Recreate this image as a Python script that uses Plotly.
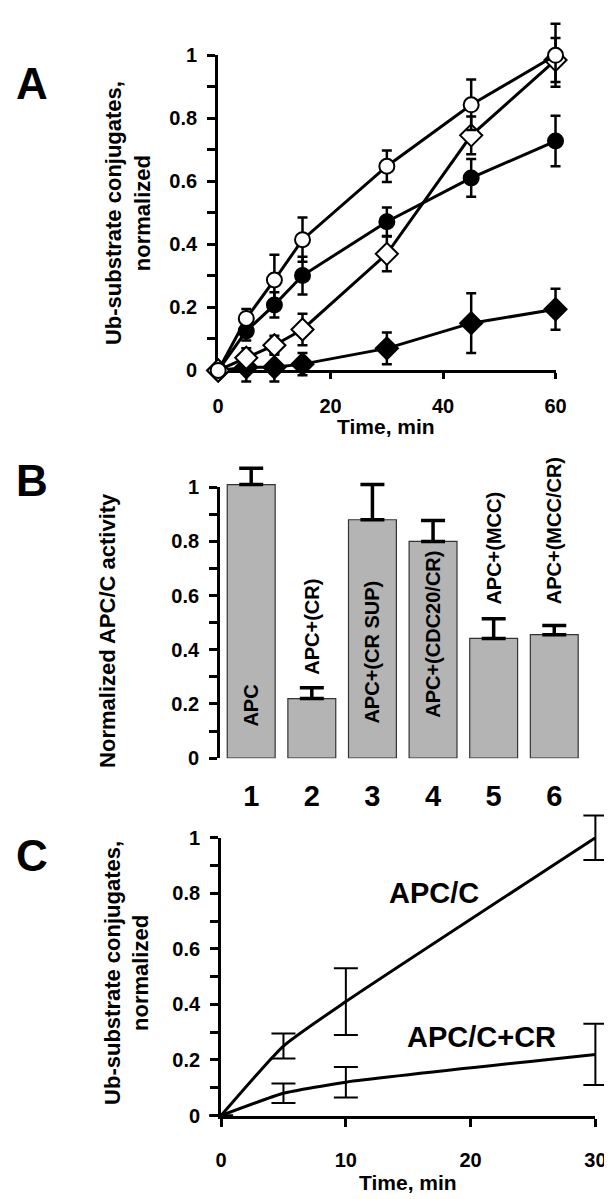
import plotly.graph_objects as go

W, H = 612, 1199

# ---------------- Panel A data ----------------
time_a = [0, 5, 10, 15, 30, 45, 60]
open_circle = [0, 0.165, 0.287, 0.415, 0.648, 0.843, 1.0]
open_circle_err = [None, 0.03, 0.08, 0.07, 0.05, 0.08, 0.10]
filled_circle = [0, 0.125, 0.208, 0.301, 0.472, 0.611, 0.728]
filled_circle_err = [None, 0.03, 0.04, 0.06, 0.045, 0.06, 0.08]
open_diamond = [0, 0.04, 0.08, 0.13, 0.37, 0.746, 0.985]
open_diamond_err = [None, 0.03, 0.03, 0.05, 0.055, 0.06, 0.07]
filled_diamond = [0, 0.01, 0.01, 0.02, 0.07, 0.15, 0.194]
filled_diamond_err = [None, 0.045, 0.045, 0.035, 0.05, 0.095, 0.065]

# ---------------- Panel B data ----------------
lanes = [1, 2, 3, 4, 5, 6]
lane_labels = ["1", "2", "3", "4", "5", "6"]
activity = [1.01, 0.22, 0.88, 0.80, 0.442, 0.456]
activity_err = [0.06, 0.04, 0.13, 0.077, 0.073, 0.034]
bar_texts = ["APC", "APC+(CR)", "APC+(CR SUP)", "APC+(CDC20/CR)", "APC+(MCC)", "APC+(MCC/CR)"]

# ---------------- Panel C data ----------------
time_c = [0, 5, 10, 30]
apc = [0, 0.25, 0.41, 1.0]
apc_err = [None, 0.045, 0.12, 0.08]
apc_cr = [0, 0.08, 0.12, 0.22]
apc_cr_err = [None, 0.035, 0.055, 0.11]

y_ticks = [round(0.1 * i, 1) for i in range(11)]
y_ticktext = [("0" if v == 0 else "1" if v == 1 else f"{v:g}") if i % 2 == 0 else "" for i, v in enumerate(y_ticks)]

FONT = "Liberation Sans, Arial, sans-serif"


def px_x(p):
    return p / W


def px_y(p):
    return 1 - p / H


def extend(p0, p1, r0, r1, q0, q1):
    """visible axis spans pixels p0..p1 for values r0..r1; return values at pixels q0..q1"""
    s = (r1 - r0) / (p1 - p0)
    return [r0 + (q0 - p0) * s, r0 + (q1 - p0) * s]


# pixel frames: (visible px, range, data px)
A_X = (210, 557, 0, 60, 185, 610)
A_Y = (358, 37, 0, 1, 385, 0)
B_X = (212, 590, 0.487, 6.55, 212, 590)
B_Y = (753, 477, 0, 1, 753, 430)
C_X = (213, 598, 0, 30, 200, 612)
C_Y = (1117, 834, 0, 1, 1140, 800)

fig = go.Figure()

# empty traces so the visible (axis-only) subplots are drawn
for xa, ya in [("x", "y"), ("x2", "y2"), ("x3", "y3")]:
    fig.add_trace(go.Scatter(x=[None], y=[None], xaxis=xa, yaxis=ya, showlegend=False,
                             hoverinfo="skip"))


# ---- Panel A traces (on overlay axes x4/y4) ----
def a_trace(y, err, symbol, fill, size):
    return go.Scatter(
        x=time_a, y=y, mode="lines+markers", xaxis="x4", yaxis="y4",
        line=dict(color="black", width=3),
        marker=dict(symbol=symbol, size=size, color=fill, line=dict(color="black", width=2)),
        error_y=dict(type="data", array=err, visible=True, color="black", thickness=2.5, width=5),
        cliponaxis=False, showlegend=False,
    )

fig.add_trace(a_trace(filled_diamond, filled_diamond_err, "diamond", "black", 17))
fig.add_trace(a_trace(filled_circle, filled_circle_err, "circle", "black", 15))
fig.add_trace(a_trace(open_diamond, open_diamond_err, "diamond", "white", 17))
fig.add_trace(a_trace(open_circle, open_circle_err, "circle", "white", 15))

# ---- Panel B ----
fig.add_trace(go.Bar(
    x=lanes, y=activity, xaxis="x5", yaxis="y5",
    marker=dict(color="#b4b4b4", line=dict(color="#333333", width=1.2)),
    error_y=dict(type="data", symmetric=False, array=activity_err,
                 arrayminus=[0] * len(activity_err), color="black", thickness=3.5, width=12),
    showlegend=False,
))

# ---- Panel C ----
for y, err in [(apc, apc_err), (apc_cr, apc_cr_err)]:
    fig.add_trace(go.Scatter(
        x=time_c, y=y, mode="lines", xaxis="x6", yaxis="y6",
        line=dict(color="black", width=3, shape="spline", smoothing=0.5),
        error_y=dict(type="data", array=err, visible=True, color="black", thickness=2, width=12),
        showlegend=False,
    ))

tickfont = dict(family=FONT, size=20, color="black", weight="bold")

yaxis_common = dict(
    range=[0, 1], tickvals=y_ticks, ticktext=y_ticktext, ticks="outside", ticklen=8,
    tickwidth=3, tickcolor="black", showline=True, linewidth=3, linecolor="black",
    showgrid=False, zeroline=False, tickfont=tickfont, ticklabelstandoff=6,
)


def dom_x(f):
    return [px_x(f[4]), px_x(f[5])]


def dom_y(f):
    return [px_y(f[4]), px_y(f[5])]


def hidden(frame_pix, anchor, is_x):
    p0, p1, r0, r1, q0, q1 = frame_pix
    rng = extend(p0, p1, r0, r1, q0, q1)
    dom = [px_x(q0), px_x(q1)] if is_x else [px_y(q0), px_y(q1)]
    return dict(domain=dom, range=rng, visible=False, showgrid=False, zeroline=False,
                anchor=anchor, fixedrange=True)


fig.update_layout(
    width=W, height=H, margin=dict(l=0, r=0, t=0, b=0),
    paper_bgcolor="white", plot_bgcolor="rgba(0,0,0,0)",
    bargap=0.21,
    xaxis=dict(domain=[px_x(210), px_x(557)], range=[0, 60], tickvals=[0, 20, 40, 60],
               ticks="outside", ticklen=6, tickwidth=3, tickcolor="black",
               showline=True, linewidth=3, linecolor="black", showgrid=False, zeroline=False,
               tickfont=tickfont, ticklabelstandoff=10, anchor="y"),
    yaxis=dict(domain=[px_y(358), px_y(37)], anchor="x", **yaxis_common),
    xaxis2=dict(domain=[px_x(212), px_x(590)], range=[0.487, 6.55], tickvals=lanes,
                ticktext=lane_labels, ticks="", showline=False, showgrid=False, zeroline=False,
                tickfont=dict(family=FONT, size=29, color="black", weight="bold"),
                ticklabelstandoff=18, anchor="y2"),
    yaxis2=dict(domain=[px_y(753), px_y(477)], anchor="x2", **yaxis_common),
    xaxis3=dict(domain=[px_x(213), px_x(598)], range=[0, 30], tickvals=[0, 10, 20, 30],
                ticks="outside", ticklen=8, tickwidth=3, tickcolor="black",
                showline=True, linewidth=3, linecolor="black", showgrid=False, zeroline=False,
                tickfont=tickfont, ticklabelstandoff=16, anchor="y3"),
    yaxis3=dict(domain=[px_y(1117), px_y(834)], anchor="x3", **yaxis_common),
    xaxis4=hidden(A_X, "y4", True), yaxis4=hidden(A_Y, "x4", False),
    xaxis5=hidden(B_X, "y5", True), yaxis5=hidden(B_Y, "x5", False),
    xaxis6=hidden(C_X, "y6", True), yaxis6=hidden(C_Y, "x6", False),
)

bold = lambda s: dict(family=FONT, size=s, color="black", weight="bold")
ann = []
# panel letters
for letter, yy in [("A", 66), ("B", 470), ("C", 852)]:
    ann.append(dict(text=letter, x=px_x(18), y=px_y(yy), xref="paper", yref="paper",
                    showarrow=False, font=bold(44), xanchor="center", yanchor="middle"))
# axis titles
ann.append(dict(text="Ub-substrate conjugates,<br>normalized", x=px_x(118), y=px_y(198),
                xref="paper", yref="paper", showarrow=False, textangle=-90, font=bold(22),
                xanchor="center", yanchor="middle"))
ann.append(dict(text="Time, min", x=px_x(383), y=px_y(415), xref="paper", yref="paper",
                showarrow=False, font=bold(21), xanchor="center", yanchor="middle"))
ann.append(dict(text="Normalized APC/C activity", x=px_x(96), y=px_y(623), xref="paper",
                yref="paper", showarrow=False, textangle=-90, font=bold(22),
                xanchor="center", yanchor="middle"))
ann.append(dict(text="Ub-substrate conjugates,<br>normalized", x=px_x(116), y=px_y(972),
                xref="paper", yref="paper", showarrow=False, textangle=-90, font=bold(22),
                xanchor="center", yanchor="middle"))
ann.append(dict(text="Time, min", x=px_x(405), y=px_y(1185), xref="paper", yref="paper",
                showarrow=False, font=bold(21), xanchor="center", yanchor="middle"))
# bar labels
label_base = [0.11, 0.30, 0.12, 0.14, 0.56, 0.56]
for lane, txt, base in zip(lanes, bar_texts, label_base):
    ann.append(dict(text=txt, x=lane, y=base, xref="x5", yref="y5", showarrow=False,
                    textangle=-90, font=bold(20), xanchor="center", yanchor="bottom"))
# panel C labels
ann.append(dict(text="APC/C", x=17.1, y=0.80, xref="x6", yref="y6", showarrow=False,
                font=bold(29), xanchor="center", yanchor="middle"))
ann.append(dict(text="APC/C+CR", x=20.9, y=0.282, xref="x6", yref="y6", showarrow=False,
                font=bold(29), xanchor="center", yanchor="middle"))
fig.update_layout(annotations=ann)

fig.write_html("out.html")
